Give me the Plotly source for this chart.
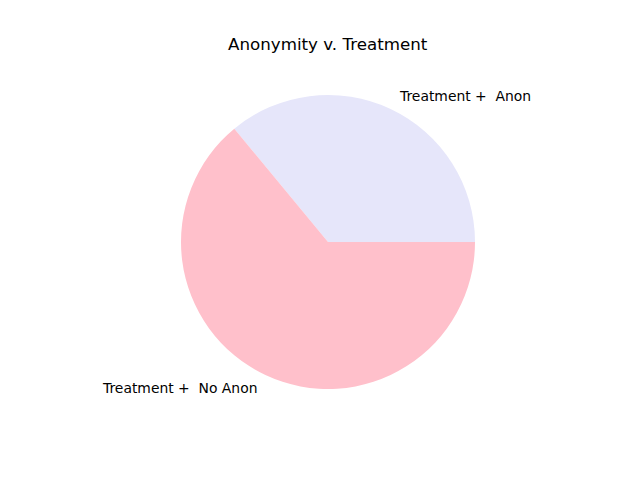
import math
import plotly.graph_objects as go

labels = ["Treatment +  Anon", "Treatment +  No Anon"]
values = [36, 64]
colors = ["#E6E6FA", "#FFC0CB"]
title = "Anonymity v. Treatment"

W, H = 640, 480
cx, cy, r = 328, 238, 147  # pixel center (y from bottom) and radius

total = sum(values)
# plotly counterclockwise: first slice ends at rotation; make it start at 3 o'clock
rotation = 90 - 360.0 * values[0] / total

fig = go.Figure()
fig.add_trace(go.Pie(
    labels=labels, values=values, sort=False,
    direction="counterclockwise", rotation=rotation,
    marker=dict(colors=colors, line=dict(width=0)),
    textinfo="none", hoverinfo="label+percent", showlegend=False,
    domain=dict(x=[(cx - r) / W, (cx + r) / W], y=[(cy - r) / H, (cy + r) / H]),
))

start = 0.0
annotations = []
for lab, v in zip(labels, values):
    ang = start + 360.0 * v / total / 2
    start += 360.0 * v / total
    th = math.radians(ang)
    px = cx + 1.1 * r * math.cos(th)
    py = cy + 1.1 * r * math.sin(th)
    annotations.append(dict(
        x=px / W, y=py / H, xref="paper", yref="paper",
        text=lab.replace("  ", " \u00a0"), showarrow=False,
        xanchor="left" if math.cos(th) > 0 else "right", yanchor="middle",
        font=dict(family="DejaVu Sans", size=13.9, color="black"),
    ))

annotations.append(dict(
    x=cx / W, y=(H - 44) / H, xref="paper", yref="paper",
    text=title, showarrow=False, xanchor="center", yanchor="middle",
    font=dict(family="DejaVu Sans", size=16.7, color="black"),
))

fig.update_layout(
    width=W, height=H, margin=dict(l=0, r=0, t=0, b=0),
    paper_bgcolor="white", plot_bgcolor="white",
    annotations=annotations,
)
fig.write_html("out.html")
